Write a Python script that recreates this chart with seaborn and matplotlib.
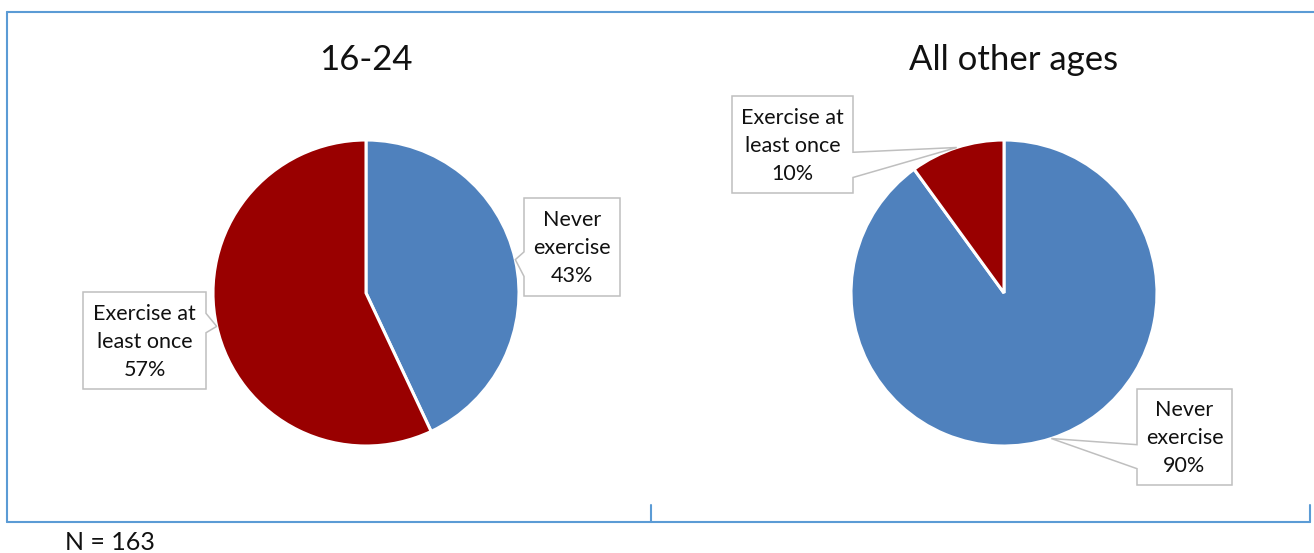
import textwrap

import numpy as np
import matplotlib
matplotlib.use("Agg")
import matplotlib.pyplot as plt
import seaborn as sns
from matplotlib.lines import Line2D
from matplotlib.patches import Polygon
from matplotlib.transforms import IdentityTransform

# ---- data -------------------------------------------------------------
categories = ["Never exercise", "Exercise at least once"]
groups = ["16-24", "All other ages"]
young_pct = [43, 57]
older_pct = [90, 10]
sample_note = "N = 163"

# ---- style ------------------------------------------------------------
sns.set_theme(style="white")
plt.rcParams["font.family"] = ["Lato", "DejaVu Sans"]
palette = sns.color_palette(["#4F81BD", "#990000"])
frame_color = "#5B9BD5"
callout_edge = "#BFBFBF"
text_color = "#111111"

W, H = 1314, 553
fig = plt.figure(figsize=(W / 100, H / 100), dpi=100)
fig.patch.set_facecolor("white")
ident = IdentityTransform()


def img_to_disp(x, y):
    return x, H - y


def pie_axes(cx, cy, r):
    return fig.add_axes([(cx - r) / W, (H - cy - r) / H, 2 * r / W, 2 * r / H])


def callout(text, box, tip_disp, base, side):
    """White label box with a pointer towards tip_disp (display coords)."""
    x0, y0, x1, y1 = box
    h = y1 - y0
    b0, b1 = y0 + base[0] * h, y0 + base[1] * h
    tip = (tip_disp[0], H - tip_disp[1])
    if side == "right":
        pts = [(x0, y0), (x1, y0), (x1, b0), tip, (x1, b1), (x1, y1), (x0, y1)]
    else:
        pts = [(x0, y0), (x1, y0), (x1, y1), (x0, y1), (x0, b1), tip, (x0, b0)]
    disp = [img_to_disp(x, y) for x, y in pts]
    fig.add_artist(Polygon(disp, closed=True, transform=ident, facecolor="white",
                           edgecolor=callout_edge, linewidth=1.1, zorder=5))
    cx, cy = img_to_disp((x0 + x1) / 2, (y0 + y1) / 2 + 1)
    fig.text(cx / W, cy / H, text, ha="center", va="center", fontsize=15.5,
             color=text_color, linespacing=1.5, zorder=6)


def draw_group(cx, cy, r, title, title_x, values, boxes):
    ax = pie_axes(cx, cy, r)
    wedges, _ = ax.pie(values, colors=palette, startangle=90, counterclock=False,
                       radius=1.0,
                       wedgeprops=dict(edgecolor="white", linewidth=2.2))
    ax.set_xlim(-1, 1)
    ax.set_ylim(-1, 1)
    ax.set_aspect("equal")
    ax.axis("off")
    fig.text(title_x / W, 1 - 60 / H, title, ha="center", va="center",
             fontsize=25, color=text_color)
    for wedge, name, val, (box, base, side) in zip(wedges, categories, values, boxes):
        mid = np.deg2rad((wedge.theta1 + wedge.theta2) / 2)
        tip = ax.transData.transform((np.cos(mid), np.sin(mid)))
        label = "\n".join(textwrap.wrap(name, 11)) + f"\n{val}%"
        callout(label, box, tip, base, side)


# box (x0, y0, x1, y1), pointer base as fraction of box height, pointer side
draw_group(366, 293, 153, groups[0], 366, young_pct, [
    ((524, 198, 620, 296), (0.55, 0.80), "left"),
    ((83, 292, 206, 389), (0.22, 0.42), "right"),
])
draw_group(1004, 293, 153, groups[1], 1014, older_pct, [
    ((1137, 389, 1232, 485), (0.58, 0.83), "left"),
    ((732, 96, 853, 193), (0.58, 0.84), "right"),
])

# chart frame
frame = [
    ((7, 12), (1314, 12)),
    ((7, 12), (7, 522)),
    ((7, 522), (1310, 522)),
    ((651, 505), (651, 522)),
    ((1310, 505), (1310, 522)),
]
for (xa, ya), (xb, yb) in frame:
    fig.add_artist(Line2D([xa, xb], [H - ya, H - yb], transform=ident,
                          color=frame_color, linewidth=1.5))

fig.text(65 / W, 1 - 543 / H, sample_note, ha="left", va="center",
         fontsize=18, color=text_color)

fig.savefig("out.png", dpi=100, facecolor="white")
